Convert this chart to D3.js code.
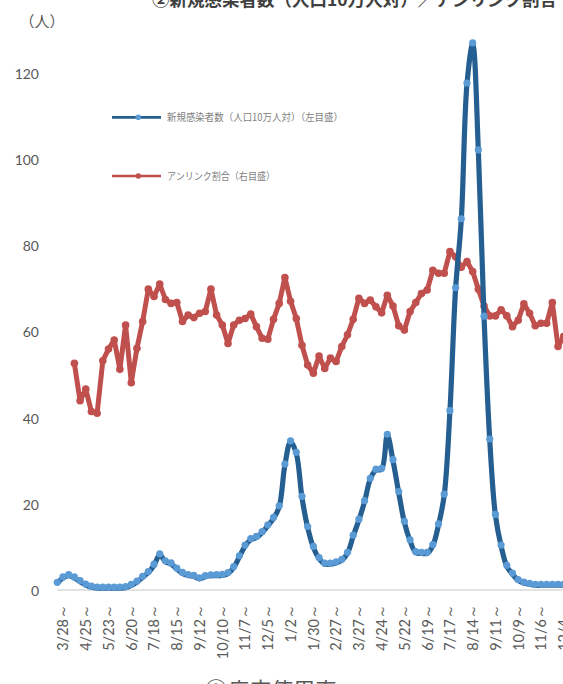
<!DOCTYPE html>
<html>
<head>
<meta charset="utf-8">
<script src="https://cdn.jsdelivr.net/npm/d3@7"></script>
<style>
  html, body { margin: 0; padding: 0; background: #fff; }
  svg { display: block; }
</style>
</head>
<body>
<div id="chart"></div>
<script>
const width = 563;
const height = 684;

// week start labels (every 4 weeks)
const weekLabels = ["3/28～", "4/25～", "5/23～", "6/20～", "7/18～", "8/15～", "9/12～",
    "10/10～", "11/7～", "12/5～", "1/2～", "1/30～", "2/27～", "3/27～", "4/24～",
    "5/22～", "6/19～", "7/17～", "8/14～", "9/11～", "10/9～", "11/6～", "12/4～"];

// new cases per 100k (left axis), weekly
const newCases = [1.55, 2.8, 3.35, 2.8, 1.95, 1.15, 0.65, 0.45, 0.45, 0.45,
    0.45, 0.45, 0.55, 1.05, 1.85, 2.95, 4.05, 5.75, 8.15, 6.55,
    6.05, 4.85, 3.85, 3.35, 3.15, 2.6, 3.1, 3.3, 3.35, 3.4,
    3.8, 5.2, 7.7, 10.2, 11.7, 12.2, 13.3, 14.9, 16.6, 19.3,
    29.0, 34.4, 31.7, 21.5, 14.5, 9.9, 7.3, 6.0, 6.0, 6.3,
    6.9, 8.5, 12.5, 16.2, 20.5, 25.7, 27.8, 28.0, 35.9, 30.0,
    22.6, 15.7, 11.4, 8.65, 8.5, 8.5, 10.3, 15.1, 22.0, 41.4,
    69.9, 85.9, 117.4, 126.7, 101.9, 63.3, 34.8, 17.3, 10.2, 5.5,
    3.7, 2.2, 1.6, 1.3, 1.1, 1.1, 1.1, 1.1, 1.1, 1.1];

// unlinked ratio % (right axis), weekly
const unlinked = [null, null, null, 52.6, 43.9, 46.6, 41.4, 41.0, 53.2, 55.9,
    58.0, 51.2, 61.5, 48.1, 56.1, 62.3, 69.8, 68.1, 71.0, 67.4,
    66.5, 66.7, 62.3, 63.8, 63.2, 64.2, 64.6, 69.8, 63.8, 61.5,
    57.2, 61.5, 62.6, 63.0, 64.0, 61.1, 58.4, 58.2, 62.8, 66.5,
    72.5, 67.0, 63.0, 56.8, 52.2, 50.3, 54.3, 51.4, 53.8, 53.0,
    56.5, 59.2, 62.8, 67.7, 66.5, 67.3, 65.7, 64.3, 68.4, 65.9,
    61.3, 60.3, 64.6, 66.7, 68.8, 69.6, 74.2, 73.5, 73.5, 78.5,
    77.3, 74.9, 76.2, 73.9, 69.8, 65.9, 63.6, 63.6, 65.0, 63.6,
    61.1, 62.6, 66.4, 64.2, 61.3, 61.9, 61.9, 66.7, 56.5, 58.8];

const yTicks = [0, 20, 40, 60, 80, 100, 120];

const legendNames = ["新規感染者数（人口10万人対）（左目盛）", "アンリンク割合（右目盛）"];

const blueLine = "#255e91";
const blueDot = "#5b9bd5";
const red = "#c0504d";
const cjk = "'Noto Sans CJK JP', sans-serif";

const svg = d3.select("#chart")
    .append("svg")
    .attr("width", width)
    .attr("height", height);

const x = d3.scaleLinear()
    .domain([0, newCases.length - 1])
    .range([57.3, 57.3 + 5.69 * (newCases.length - 1)]);

const y = d3.scaleLinear()
    .domain([0, 140])
    .range([590, 590 - 140 * 4.31]);

// right axis uses same proportions (0-140%)
const yRight = d3.scaleLinear()
    .domain([0, 140])
    .range(y.range());

// titles
svg.append("text")
    .attr("x", 152)
    .attr("y", 6)
    .attr("font-family", cjk)
    .attr("font-weight", "bold")
    .attr("font-size", 17.5)
    .attr("fill", "#404040")
    .text("②新規感染者数（人口10万人対）／アンリンク割合");

svg.append("text")
    .attr("x", 205)
    .attr("y", 698)
    .attr("font-family", cjk)
    .attr("font-size", 22)
    .attr("fill", "#595959")
    .text("③病床使用率");

svg.append("text")
    .attr("x", 19.5)
    .attr("y", 27)
    .attr("font-family", cjk)
    .attr("font-size", 15)
    .attr("fill", "#595959")
    .text("（人）");

// baseline
svg.append("line")
    .attr("x1", x(0))
    .attr("x2", width)
    .attr("y1", y(0))
    .attr("y2", y(0))
    .attr("stroke", "#d9d9d9")
    .attr("stroke-width", 1.5);

// left axis labels
const yAxis = d3.axisLeft(y).tickValues(yTicks).tickSize(0).tickPadding(0);
const gy = svg.append("g")
    .attr("transform", "translate(39,1)")
    .call(yAxis);
gy.select(".domain").remove();
gy.selectAll("text")
    .attr("font-family", "Lato, sans-serif")
    .attr("font-size", 14)
    .attr("fill", "#595959");

// x labels
svg.append("g")
    .selectAll("text")
    .data(weekLabels)
    .enter()
    .append("text")
    .attr("transform", (d, i) => `translate(${x(i * 4) + 6},604) rotate(-90)`)
    .attr("text-anchor", "end")
    .attr("dy", "0.35em")
    .attr("font-family", "Lato, sans-serif")
    .attr("font-size", 14.5)
    .attr("fill", "#595959")
    .text(d => d);

// red series
const redLine = d3.line()
    .defined(d => d != null)
    .x((d, i) => x(i))
    .y(d => yRight(d));

svg.append("path")
    .datum(unlinked)
    .attr("d", redLine)
    .attr("fill", "none")
    .attr("stroke", red)
    .attr("stroke-width", 5)
    .attr("stroke-linejoin", "round");

svg.append("g")
    .selectAll("circle")
    .data(unlinked.map((v, i) => [i, v]).filter(d => d[1] != null))
    .enter()
    .append("circle")
    .attr("cx", d => x(d[0]))
    .attr("cy", d => yRight(d[1]))
    .attr("r", 3.8)
    .attr("fill", red);

// blue series
const bLine = d3.line()
    .x((d, i) => x(i))
    .y(d => y(d))
    .curve(d3.curveCatmullRom.alpha(0.5));

svg.append("path")
    .datum(newCases)
    .attr("d", bLine)
    .attr("fill", "none")
    .attr("stroke", blueLine)
    .attr("stroke-width", 5.2)
    .attr("stroke-linejoin", "round");

svg.append("g")
    .selectAll("circle")
    .data(newCases)
    .enter()
    .append("circle")
    .attr("cx", (d, i) => x(i))
    .attr("cy", d => y(d) - 1)
    .attr("r", 3.6)
    .attr("fill", blueDot);

// legend
const legend = svg.append("g");
const legendRows = [
    {name: legendNames[0], y: 117.3, line: blueLine, dot: blueDot, len: 176},
    {name: legendNames[1], y: 176, line: red, dot: red, len: 108}
];
legendRows.forEach(r => {
    legend.append("line")
        .attr("x1", 112).attr("x2", 161)
        .attr("y1", r.y).attr("y2", r.y)
        .attr("stroke", r.line)
        .attr("stroke-width", 2.7);
    legend.append("circle")
        .attr("cx", 138.3).attr("cy", r.y)
        .attr("r", 2.8)
        .attr("fill", r.dot);
    legend.append("text")
        .attr("x", 167)
        .attr("y", r.y)
        .attr("dy", "0.36em")
        .attr("font-family", cjk)
        .attr("font-size", 10)
        .attr("fill", "#7f7f7f")
        .attr("textLength", r.len)
        .attr("lengthAdjust", "spacingAndGlyphs")
        .text(r.name);
});
</script>
</body>
</html>
